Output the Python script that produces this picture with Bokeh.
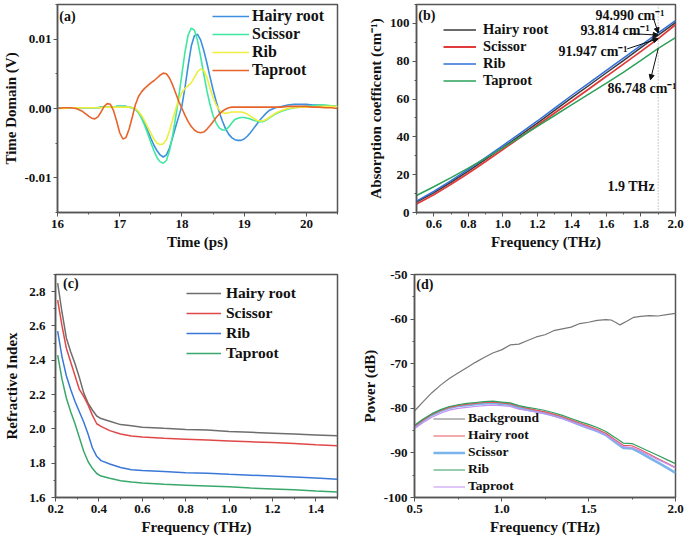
from bokeh.plotting import figure
from bokeh.layouts import column, row
from bokeh.models import (Legend, LegendItem, Label, Span, Arrow, NormalHead,
                          FixedTicker, NumeralTickFormatter, Range1d)
from bokeh.embed import file_html
from bokeh.resources import INLINE

FONT = "Liberation Serif"

# ---------------- (a) time domain ----------------
TIME_PS = [16.0, 16.1, 16.2, 16.3, 16.4, 16.5,
           16.55, 16.6, 16.65, 16.7, 16.75, 16.8, 16.85, 16.9, 16.95,
           17.0, 17.05, 17.1, 17.15, 17.2, 17.25, 17.3, 17.35, 17.4, 17.45,
           17.5, 17.55, 17.6, 17.65, 17.7, 17.75, 17.8, 17.85, 17.9, 17.95,
           18.0, 18.05, 18.1, 18.15, 18.2, 18.25, 18.3, 18.35, 18.4, 18.45,
           18.5, 18.55, 18.6, 18.65, 18.7, 18.75, 18.8, 18.85, 18.9, 18.95,
           19.0, 19.05, 19.1, 19.15, 19.2, 19.25, 19.3, 19.35, 19.4,
           19.5, 19.6, 19.7, 19.8, 19.9, 20.0, 20.1, 20.2, 20.3, 20.4, 20.5]

TD_HAIRY = [0.0001, 0.0001, 0.0001, 0.0001, 0.0001, 0.0001,
            0.0001, 0.0001, 0.0001, 0.0002, 0.0002, 0.0002, 0.0002, 0.0002, 0.0003,
            0.0003, 0.0003, 0.0003, 0.0002, 0.0001, -0.0001, -0.0005, -0.0012, -0.0021, -0.0032,
            -0.0043, -0.0053, -0.0061, -0.0067, -0.0070, -0.0067, -0.0057, -0.0042, -0.0026, -0.0011,
            0.0004, 0.0031, 0.0062, 0.0090, 0.0105, 0.0107, 0.0099, 0.0084, 0.0066, 0.0046,
            0.0027, 0.0010, -0.0005, -0.0018, -0.0029, -0.0037, -0.0042, -0.0045, -0.0046, -0.0046,
            -0.0044, -0.0040, -0.0035, -0.0029, -0.0023, -0.0017, -0.0012, -0.0007, -0.0003,
            0.0001, 0.0003, 0.0005, 0.0006, 0.0006, 0.0006, 0.0005, 0.0005, 0.0004, 0.0004, 0.0003]

TD_SCISSOR = [0.0000, 0.0001, 0.0001, 0.0001, 0.0001, 0.0001,
              0.0001, 0.0001, 0.0001, 0.0002, 0.0002, 0.0002, 0.0002, 0.0002, 0.0003,
              0.0003, 0.0003, 0.0003, 0.0002, 0.0001, -0.0001, -0.0006, -0.0014, -0.0024, -0.0036,
              -0.0049, -0.0061, -0.0071, -0.0077, -0.0079, -0.0075, -0.0061, -0.0039, -0.0012, 0.0018,
              0.0050, 0.0082, 0.0106, 0.0116, 0.0113, 0.0098, 0.0075, 0.0050, 0.0026, 0.0006,
              -0.0010, -0.0021, -0.0028, -0.0031, -0.0031, -0.0027, -0.0021, -0.0016, -0.0014, -0.0013,
              -0.0013, -0.0014, -0.0015, -0.0017, -0.0018, -0.0019, -0.0019, -0.0017, -0.0014,
              -0.0008, -0.0004, -0.0001, 0.0001, 0.0002, 0.0003, 0.0004, 0.0005, 0.0005, 0.0004, 0.0003]

TD_RIB = [0.0000, 0.0000, 0.0001, 0.0001, 0.0001, 0.0001,
          0.0001, 0.0001, 0.0001, 0.0001, 0.0002, 0.0002, 0.0002, 0.0002, 0.0002,
          0.0002, 0.0002, 0.0002, 0.0002, 0.0001, 0.0000, -0.0004, -0.0010, -0.0018, -0.0027,
          -0.0036, -0.0044, -0.0050, -0.0052, -0.0051, -0.0045, -0.0032, -0.0016, -0.0001, 0.0013,
          0.0023, 0.0029, 0.0033, 0.0037, 0.0045, 0.0053, 0.0057, 0.0055, 0.0045, 0.0030,
          0.0016, 0.0005, -0.0002, -0.0006, -0.0007, -0.0006, -0.0005, -0.0005, -0.0005, -0.0005,
          -0.0006, -0.0008, -0.0011, -0.0014, -0.0017, -0.0018, -0.0018, -0.0016, -0.0013,
          -0.0007, -0.0003, 0.0000, 0.0001, 0.0002, 0.0002, 0.0002, 0.0003, 0.0003, 0.0003, 0.0003]

TD_TAPROOT = [0.0000, 0.0001, 0.0001, 0.0000, -0.0004, -0.0011,
              -0.0014, -0.0015, -0.0012, -0.0005, 0.0003, 0.0007, 0.0006, -0.0003, -0.0018,
              -0.0035, -0.0044, -0.0042, -0.0030, -0.0013, 0.0005, 0.0017, 0.0024, 0.0029, 0.0033,
              0.0037, 0.0040, 0.0044, 0.0048, 0.0051, 0.0050, 0.0044, 0.0034, 0.0022, 0.0010,
              0.0000, -0.0010, -0.0019, -0.0026, -0.0031, -0.0034, -0.0035, -0.0034, -0.0030, -0.0025,
              -0.0019, -0.0013, -0.0008, -0.0004, -0.0001, 0.0001, 0.0002, 0.0002, 0.0002, 0.0002,
              0.0002, 0.0002, 0.0002, 0.0002, 0.0002, 0.0002, 0.0002, 0.0002, 0.0002,
              0.0002, 0.0002, 0.0003, 0.0003, 0.0003, 0.0003, 0.0002, 0.0002, 0.0001, 0.0001, 0.0000]

# ---------------- (b) absorption coefficient ----------------
FREQ_B = [0.5, 0.6, 0.7, 0.8, 0.9, 1.0, 1.1, 1.2, 1.3, 1.4, 1.5, 1.6, 1.7, 1.8, 1.9, 2.0]
ABS_HAIRY = [5.5, 10.4, 16.0, 21.9, 28.1, 34.4, 40.8, 47.3, 54.0, 60.7, 67.3, 73.9, 80.5, 87.2, 93.814, 100.4]
ABS_SCISSOR = [4.5, 9.4, 14.9, 20.8, 27.0, 33.3, 39.7, 46.1, 52.6, 59.0, 65.5, 72.0, 78.6, 85.2, 91.947, 99.3]
ABS_RIB = [6.0, 11.2, 16.8, 22.8, 29.0, 35.4, 41.8, 48.4, 55.2, 62.0, 68.6, 75.2, 81.8, 88.4, 94.990, 101.5]
ABS_TAPROOT = [9.0, 13.6, 18.4, 23.5, 28.8, 34.2, 39.8, 45.5, 51.3, 57.0, 62.7, 68.4, 74.3, 80.5, 86.748, 92.5]
ANNOT_B = ["94.990 cm⁻¹", "93.814 cm⁻¹", "91.947 cm⁻¹", "86.748 cm⁻¹"]

# ---------------- (c) refractive index ----------------
FREQ_C = [0.21, 0.23, 0.25, 0.27, 0.29, 0.31, 0.33, 0.35, 0.37, 0.39, 0.41, 0.45, 0.5,
          0.55, 0.6, 0.7, 0.8, 0.9, 1.0, 1.1, 1.2, 1.3, 1.4, 1.5]
RI_HAIRY = [2.85, 2.68, 2.53, 2.45, 2.38, 2.30, 2.21, 2.15, 2.11, 2.075, 2.06, 2.045, 2.025,
            2.018, 2.01, 2.003, 1.997, 1.993, 1.985, 1.98, 1.975, 1.97, 1.965, 1.96]
RI_SCISSOR = [2.75, 2.60, 2.47, 2.39, 2.31, 2.23, 2.19, 2.14, 2.08, 2.03, 2.015, 1.99, 1.97,
              1.958, 1.952, 1.945, 1.94, 1.935, 1.93, 1.925, 1.92, 1.915, 1.908, 1.902]
RI_RIB = [2.57, 2.42, 2.31, 2.23, 2.16, 2.10, 2.04, 1.97, 1.89, 1.84, 1.815, 1.795, 1.775,
          1.762, 1.758, 1.752, 1.745, 1.742, 1.735, 1.73, 1.725, 1.72, 1.713, 1.706]
RI_TAPROOT = [2.43, 2.29, 2.18, 2.10, 2.03, 1.95, 1.87, 1.81, 1.77, 1.74, 1.725, 1.712, 1.698,
              1.69, 1.685, 1.677, 1.672, 1.667, 1.662, 1.655, 1.65, 1.645, 1.638, 1.632]

# ---------------- (d) power ----------------
FREQ_BG = [0.5, 0.55, 0.6, 0.65, 0.7, 0.75, 0.8, 0.85, 0.9, 0.95, 1.0, 1.05, 1.1, 1.15, 1.2,
           1.25, 1.3, 1.35, 1.4, 1.45, 1.5, 1.55, 1.6, 1.63, 1.66, 1.68, 1.72, 1.76, 1.8,
           1.85, 1.9, 1.95, 2.0]
PW_BACKGROUND = [-80.6, -78.5, -76.5, -74.8, -73.3, -72.1, -70.9, -69.7, -68.6, -67.6, -66.9,
                 -65.8, -65.6, -64.8, -64.0, -63.5, -62.6, -62.2, -61.8, -61.0, -60.7, -60.3,
                 -60.1, -60.2, -60.8, -61.3, -60.5, -59.6, -59.4, -59.2, -59.3, -59.0, -58.7]
FREQ_D = [0.5, 0.55, 0.6, 0.65, 0.7, 0.75, 0.8, 0.85, 0.9, 0.95, 1.0, 1.05, 1.1, 1.15, 1.2,
          1.25, 1.3, 1.35, 1.4, 1.45, 1.5, 1.55, 1.6, 1.65, 1.7, 1.75, 1.8, 1.85, 1.9, 1.95, 2.0]
PW_HAIRY = [-84.0, -82.6, -81.4, -80.5, -79.8, -79.4, -79.1, -78.9, -78.7, -78.6, -78.8, -79.0,
            -79.6, -80.0, -80.4, -80.8, -81.3, -81.9, -82.6, -83.3, -84.0, -84.7, -85.6, -87.0,
            -88.3, -88.4, -89.3, -90.3, -91.3, -92.3, -93.3]
PW_SCISSOR = [-84.1, -82.7, -81.5, -80.6, -79.9, -79.5, -79.3, -79.1, -78.9, -78.8, -79.0, -79.2,
              -79.9, -80.3, -80.7, -81.1, -81.6, -82.2, -82.9, -83.7, -84.4, -85.1, -86.0, -87.5,
              -88.9, -89.0, -90.0, -91.1, -92.2, -93.3, -94.5]
PW_RIB = [-83.8, -82.4, -81.2, -80.3, -79.6, -79.2, -78.9, -78.7, -78.5, -78.4, -78.6, -78.8,
          -79.4, -79.8, -80.1, -80.5, -81.0, -81.6, -82.3, -83.0, -83.6, -84.3, -85.2, -86.5,
          -87.8, -87.9, -88.8, -89.7, -90.6, -91.5, -92.4]
PW_TAPROOT = [-84.6, -83.2, -82.0, -81.1, -80.4, -80.0, -79.8, -79.6, -79.4, -79.3, -79.4, -79.6,
              -80.2, -80.5, -80.8, -81.2, -81.7, -82.3, -83.0, -83.7, -84.4, -85.1, -86.0, -87.3,
              -88.6, -88.8, -89.6, -90.6, -91.5, -92.4, -93.4]

AXC = "#555555"
TXT = "#111111"


def make_fig(w, h, xr, yr, bl, br, bt, bb):
    p = figure(width=w, height=h, x_range=Range1d(*xr), y_range=Range1d(*yr),
               output_backend="svg", toolbar_location=None,
               min_border_left=bl, min_border_right=br, min_border_top=bt, min_border_bottom=bb)
    p.xgrid.visible = False
    p.ygrid.visible = False
    p.outline_line_color = AXC
    p.outline_line_width = 1.5
    p.background_fill_color = "white"
    p.border_fill_color = "white"
    return p


def style_axes(p, xticks, xminor, yticks, yminor, xfmt, yfmt, xlabel, ylabel):
    p.xaxis.ticker = FixedTicker(ticks=xticks, minor_ticks=xminor)
    p.yaxis.ticker = FixedTicker(ticks=yticks, minor_ticks=yminor)
    p.xaxis.formatter = NumeralTickFormatter(format=xfmt)
    p.yaxis.formatter = NumeralTickFormatter(format=yfmt)
    p.xaxis.axis_label = xlabel
    p.yaxis.axis_label = ylabel
    for ax in (p.xaxis[0], p.yaxis[0]):
        ax.axis_label_text_font = FONT
        ax.axis_label_text_font_style = "bold"
        ax.axis_label_text_font_size = "15px"
        ax.axis_label_text_color = TXT
        ax.major_label_text_font = FONT
        ax.major_label_text_font_style = "bold"
        ax.major_label_text_font_size = "13px"
        ax.major_label_text_color = TXT
        ax.axis_line_color = AXC
        ax.axis_line_width = 1.5
        ax.major_tick_line_color = AXC
        ax.minor_tick_line_color = AXC
        ax.major_tick_in = 0
        ax.major_tick_out = 4
        ax.minor_tick_in = 0
        ax.minor_tick_out = 2
        ax.major_label_standoff = 3
        ax.axis_label_standoff = 3


def add_legend(p, items, x, y, font_size, label_h, glyph_w, standoff, spacing):
    leg = Legend(items=[LegendItem(label=n, renderers=[r]) for n, r in items],
                 location=(x, y), padding=0, margin=0, spacing=spacing,
                 label_height=label_h, glyph_height=label_h, glyph_width=glyph_w,
                 label_standoff=standoff, border_line_alpha=0, background_fill_alpha=0,
                 label_text_font=FONT, label_text_font_style="bold",
                 label_text_font_size=font_size, label_text_color=TXT)
    p.add_layout(leg)


def panel_tag(p, x, y, text):
    p.add_layout(Label(x=x, y=y, text=text, text_font=FONT, text_font_style="bold",
                       text_font_size="14px", text_baseline="top", text_color=TXT))


# ---- (a)
pa = make_fig(340, 258, (16, 20.5), (-0.015, 0.015), 56, 3, 3, 46)
style_axes(pa, [16, 17, 18, 19, 20], [16.5, 17.5, 18.5, 19.5, 20.5],
           [-0.01, 0.0, 0.01], [-0.015, -0.005, 0.005, 0.015], "0", "0.00",
           "Time (ps)", "Time Domain (V)")
pa.yaxis.major_label_standoff = 2
pa.yaxis.axis_label_standoff = 2
ra1 = pa.line(TIME_PS, TD_HAIRY, line_color="#3d8fe0", line_width=1.6)
ra2 = pa.line(TIME_PS, TD_SCISSOR, line_color="#3de8a0", line_width=1.6)
ra3 = pa.line(TIME_PS, TD_RIB, line_color="#eeee40", line_width=1.6)
ra4 = pa.line(TIME_PS, TD_TAPROOT, line_color="#e8642c", line_width=1.6)
add_legend(pa, [("Hairy root", ra1), ("Scissor", ra2), ("Rib", ra3), ("Taproot", ra4)],
           155, 133, "16px", 16, 37, 3, 0)
panel_tag(pa, 16.03, 0.0143, "(a)")

# ---- (b)
pb = make_fig(345, 258, (0.5, 2.0), (0, 110), 76, 10, 4, 45)
style_axes(pb, [0.6, 0.8, 1.0, 1.2, 1.4, 1.6, 1.8, 2.0],
           [0.5, 0.7, 0.9, 1.1, 1.3, 1.5, 1.7, 1.9],
           [0, 20, 40, 60, 80, 100], [10, 30, 50, 70, 90, 110], "0.0", "0",
           "Frequency (THz)", "Absorption coefficent (cm⁻¹)")
pb.add_layout(Span(location=1.9, dimension="height", line_color="#999999",
                   line_dash="1 2", line_width=1))
rb1 = pb.line(FREQ_B, ABS_HAIRY, line_color="#3a3a3a", line_width=1.5)
rb2 = pb.line(FREQ_B, ABS_SCISSOR, line_color="#e03a3a", line_width=1.8)
rb3 = pb.line(FREQ_B, ABS_RIB, line_color="#2f6fdc", line_width=1.5)
rb4 = pb.line(FREQ_B, ABS_TAPROOT, line_color="#2ea05a", line_width=1.5)
add_legend(pb, [("Hairy root", rb1), ("Scissor", rb2), ("Rib", rb3), ("Taproot", rb4)],
           27, 123, "14.5px", 15, 33, 7, 0)
panel_tag(pb, 0.51, 108.0, "(b)")
for txt, tx, ty in [(ANNOT_B[0], 1.536, 104.4), (ANNOT_B[1], 1.45, 96.5),
                    (ANNOT_B[2], 1.322, 85.0), (ANNOT_B[3], 1.606, 65.4)]:
    pb.add_layout(Label(x=tx, y=ty, text=txt, text_font=FONT, text_font_style="bold",
                        text_font_size="14px", text_baseline="middle", text_color=TXT))
pb.add_layout(Label(x=1.606, y=13.8, text="1.9 THz", text_font=FONT, text_font_style="bold",
                    text_font_size="14px", text_baseline="middle", text_color=TXT))
for xs, ys, xe, ye in [(1.872, 102.8, 1.9, ABS_RIB[14]),
                       (1.74, 94.6, 1.9, ABS_HAIRY[14]),
                       (1.72, 86.5, 1.9, ABS_SCISSOR[14]),
                       (1.9, ABS_TAPROOT[14], 1.855, 70.2)]:
    pb.add_layout(Arrow(end=NormalHead(size=5, fill_color="#111111", line_color="#111111"),
                        x_start=xs, y_start=ys, x_end=xe, y_end=ye,
                        line_color="#111111", line_width=1))

# ---- (c)
pc = make_fig(340, 281, (0.2, 1.5), (1.6, 2.9), 55, 3, 16, 41)
style_axes(pc, [0.2, 0.4, 0.6, 0.8, 1.0, 1.2, 1.4], [0.3, 0.5, 0.7, 0.9, 1.1, 1.3, 1.5],
           [1.6, 1.8, 2.0, 2.2, 2.4, 2.6, 2.8], [1.7, 1.9, 2.1, 2.3, 2.5, 2.7, 2.9],
           "0.0", "0.0", "Frequency (THz)", "Refractive Index")
pc.yaxis.major_label_standoff = 6
pc.yaxis.axis_label_standoff = 6
rc1 = pc.line(FREQ_C, RI_HAIRY, line_color="#6e6e6e", line_width=1.5)
rc2 = pc.line(FREQ_C, RI_SCISSOR, line_color="#e04848", line_width=1.5)
rc3 = pc.line(FREQ_C, RI_RIB, line_color="#3a78d8", line_width=1.5)
rc4 = pc.line(FREQ_C, RI_TAPROOT, line_color="#3aa86a", line_width=1.5)
add_legend(pc, [("Hairy root", rc1), ("Scissor", rc2), ("Rib", rc3), ("Taproot", rc4)],
           131, 135, "15.5px", 18, 35, 5, 2)
panel_tag(pc, 0.235, 2.893, "(c)")

# ---- (d)
pd = make_fig(345, 281, (0.5, 2.0), (-100, -50), 74, 10, 15, 42)
style_axes(pd, [0.5, 1.0, 1.5, 2.0], [0.75, 1.25, 1.75],
           [-100, -90, -80, -70, -60, -50], [-95, -85, -75, -65, -55],
           "0.0", "0", "Frequency (THz)", "Power (dB)")
rd0 = pd.line(FREQ_BG, PW_BACKGROUND, line_color="#777777", line_width=1.2)
rd2 = pd.line(FREQ_D, PW_SCISSOR, line_color="#7ab4ea", line_width=2.6)
rd1 = pd.line(FREQ_D, PW_HAIRY, line_color="#e8575a", line_width=1.2)
rd3 = pd.line(FREQ_D, PW_RIB, line_color="#2e9e5e", line_width=1.2)
rd4 = pd.line(FREQ_D, PW_TAPROOT, line_color="#c490f0", line_width=1.2)
add_legend(pd, [("Background", rd0), ("Hairy root", rd1), ("Scissor", rd2), ("Rib", rd3),
                ("Taproot", rd4)], 19, 3, "13.5px", 15, 32, 3, 1)
panel_tag(pd, 0.51, -50.6, "(d)")

layout = column(row(pa, pb), row(pc, pd))
open("out.html", "w").write(file_html(layout, INLINE))
